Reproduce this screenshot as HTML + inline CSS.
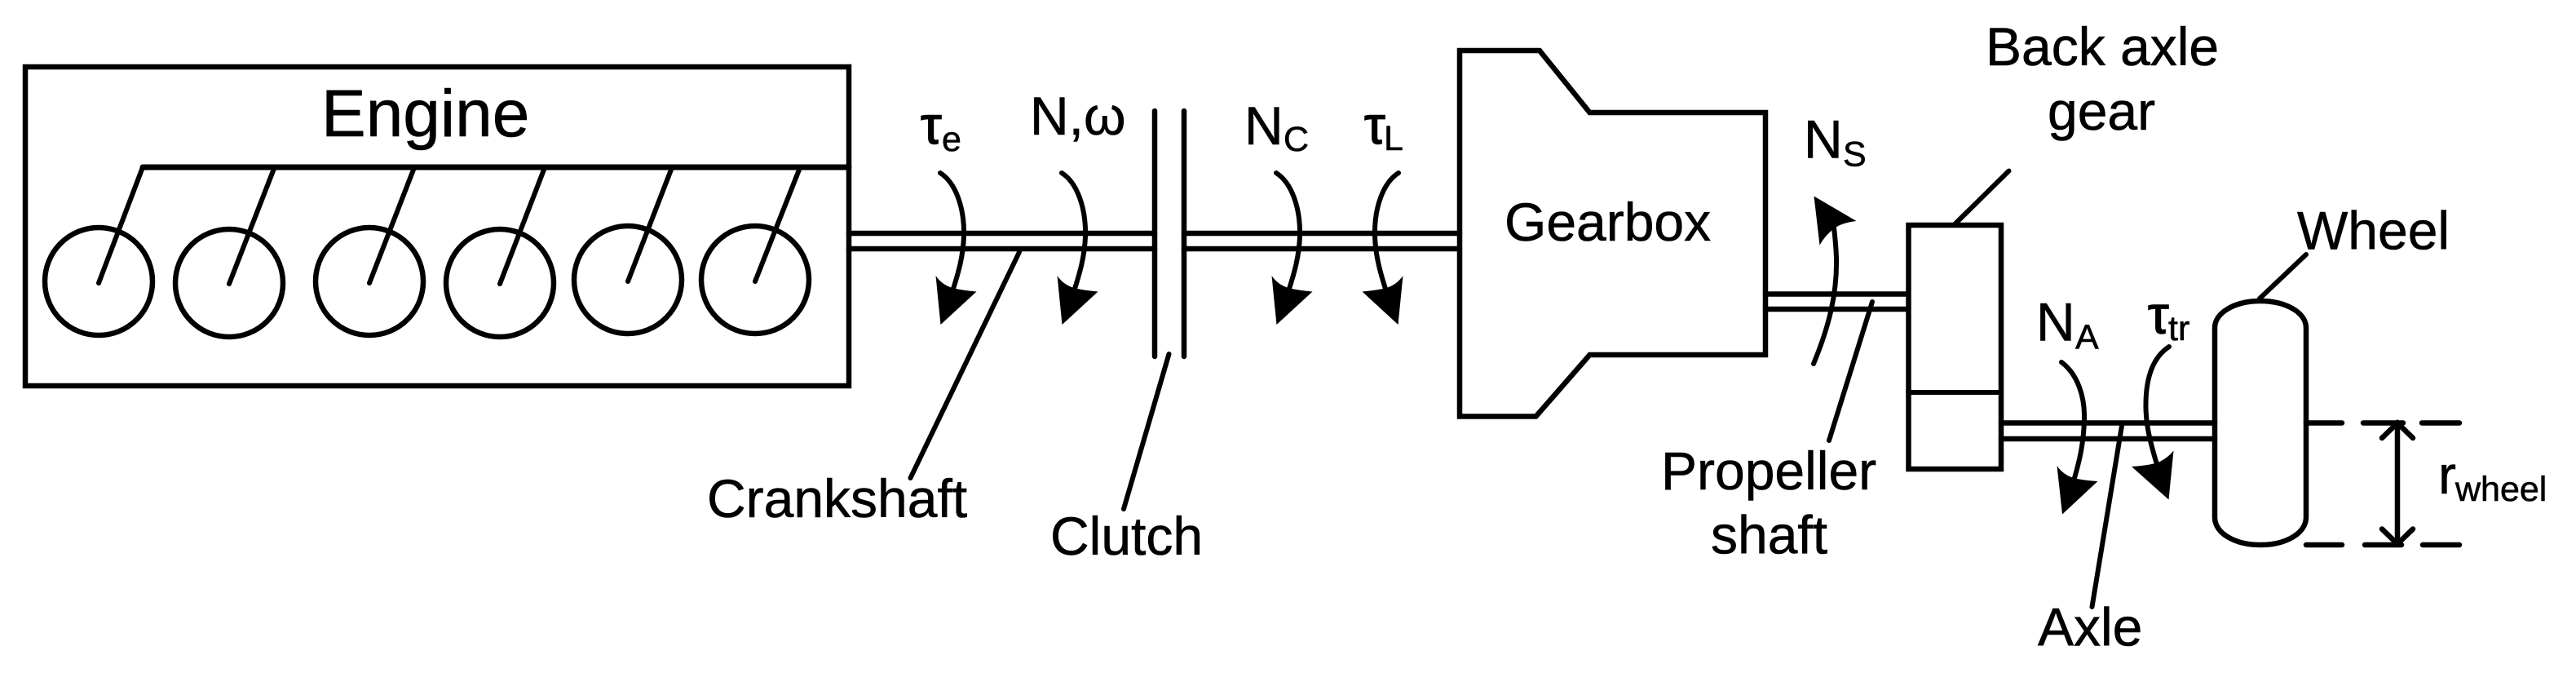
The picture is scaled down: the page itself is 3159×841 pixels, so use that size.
<!DOCTYPE html>
<html>
<head>
<meta charset="utf-8">
<style>
html,body{margin:0;padding:0;background:#fff}
svg{display:block}
text{font-family:"Liberation Sans",sans-serif;fill:#000;stroke:#000;stroke-width:.6px}
.m{font-size:66px}
.s{font-size:43px}
.t{font-size:65px;stroke-width:1.4px}
</style>
</head>
<body>
<svg width="3159" height="841" viewBox="0 0 3159 841" xmlns="http://www.w3.org/2000/svg">
<defs>
<g id="arr">
<path d="M1153 212C1172 224 1183 255 1182 290C1181 315 1175 335 1169 354" fill="none" stroke="#000" stroke-width="6" stroke-linecap="round"/>
<path d="M1147.500 338Q1155 349 1168 353Q1180 356 1197.500 357.500L1153.500 398Z" fill="#000"/>
</g>
</defs>
<g shape-rendering="geometricPrecision">
<g fill="none" stroke="#000" stroke-width="6" stroke-linecap="round" stroke-linejoin="miter">
<!-- Engine -->
<rect x="31" y="82" width="1010" height="391" stroke-width="6.500"/>
<path d="M175 205H1041" stroke-width="7"/>
<circle cx="121" cy="345" r="66" stroke-width="6.500"/>
<circle cx="281" cy="347" r="66" stroke-width="6.500"/>
<circle cx="453" cy="345" r="66" stroke-width="6.500"/>
<circle cx="613" cy="347" r="66" stroke-width="6.500"/>
<circle cx="770" cy="343" r="66" stroke-width="6.500"/>
<circle cx="926" cy="343" r="66" stroke-width="6.500"/>
<path d="M121 347L175 205M281 348L335.500 208M453 347L507 208M613 348L667 208M770 345L823 208M926 345L980 208"/>
<!-- Shafts -->
<path d="M1041 286H1416M1041 305H1416M1452 286H1790M1452 305H1790" stroke-width="6.500"/>
<path d="M1416 136V437M1452 136V437" stroke-width="6.500"/>
<path d="M2165 360.500H2340M2165 379H2340M2454 518.500H2716M2454 538H2716" stroke-width="6.500"/>
<!-- Gearbox -->
<path d="M1790 62H1888L1949.500 138H2165V435H1949.500L1883.500 510.500H1790Z" stroke-width="6.500"/>
<!-- Back axle gear -->
<rect x="2340.500" y="276" width="113.500" height="299" stroke-width="6.500"/>
<path d="M2340 481H2454M2397 275L2463.500 209.500"/>
<!-- Wheel -->
<path d="M2716 402C2716 383 2741 369 2772 369C2803 369 2828 383 2828 402V634C2828 654 2803 668 2772 668C2741 668 2716 654 2716 634Z" stroke-width="6.500"/>
<path d="M2771 366L2828 312"/>
<path d="M2828 518.500H2872M2898 518.500H2947M2970 518.500H3016M2828 668H2872M2900 668H2945M2971 668H3016" stroke-width="6.500"/>
<path d="M2940 520V667M2921 537L2940 518.500L2959 537M2921 648.500L2940 667L2959 648.500" stroke-width="6.500"/>
<!-- Leaders -->
<path d="M1250 309L1116.500 586M1433.500 434L1378 624M2296 370L2243 540M2602 522L2565.500 744"/>
</g>
<!-- Rotation arrows -->
<use href="#arr"/>
<use href="#arr" x="149"/>
<use href="#arr" x="412"/>
<use href="#arr" transform="translate(2868 0) scale(-1 1)"/>
<g fill="none" stroke="#000" stroke-width="6" stroke-linecap="round">
<path d="M2224 446C2243 400 2253 360 2252 316C2251.500 303 2250.500 292 2249 279"/>
<path d="M2528 444C2547 458 2557 485 2556 515C2555 545 2550 565 2544 586"/>
<path d="M2660 425C2637 440 2631 470 2631.500 500C2632 525 2638 545 2644 566"/>
</g>
<path d="M2224.500 240.500L2276.500 271Q2258 273 2248 281Q2238 289 2231.500 300.500Z" fill="#000"/>
<path d="M2522.500 571Q2530 582 2543 586Q2555 589 2572.500 590L2529 630.500Z" fill="#000"/>
<path d="M2665.500 552.500Q2656 564 2643 568Q2631 571 2614 572L2659.500 612.500Z" fill="#000"/>
</g>
<!-- Labels -->
<text x="394" y="167" font-size="82">Engine</text>
<text class="t" x="1129" y="176">τ</text><text class="s" x="1155" y="185">e</text>
<text class="m" x="1263" y="165">N,ω</text>
<text class="m" x="1526" y="177">N</text><text class="s" x="1574" y="185">C</text>
<text class="t" x="1673" y="176">τ</text><text class="s" x="1697" y="184">L</text>
<text class="m" x="867" y="634">Crankshaft</text>
<text class="m" x="1288" y="680">Clutch</text>
<text class="m" x="1845" y="295">Gearbox</text>
<text class="m" x="2212" y="193.500">N</text><text class="s" x="2260" y="203.500">S</text>
<text class="m" x="2037" y="600">Propeller</text>
<text class="m" x="2098" y="678.500">shaft</text>
<text class="m" x="2435" y="80">Back axle</text>
<text class="m" x="2511" y="159">gear</text>
<text class="m" x="2497" y="417.500">N</text><text class="s" x="2545" y="427.500">A</text>
<text class="t" x="2634" y="408.500">τ</text><text class="s" x="2659" y="417">tr</text>
<text class="m" x="2817" y="305.500">Wheel</text>
<text class="m" x="2990" y="605">r</text><text class="s" x="3011" y="614">wheel</text>
<text class="m" x="2499" y="791.500">Axle</text>
</svg>
</body>
</html>
